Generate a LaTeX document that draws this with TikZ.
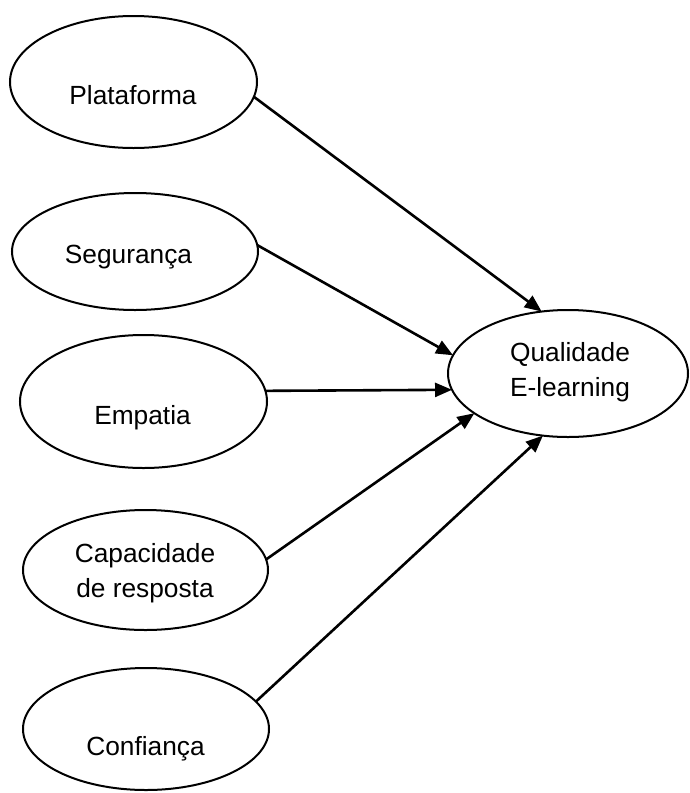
\documentclass[tikz,border=0pt]{standalone}
\usepackage{fontspec}
\setmainfont{Liberation Sans}
\usetikzlibrary{shapes.geometric,arrows.meta}

\tikzset{
    oval/.style={draw, ellipse, line width=2pt, inner sep=0pt, outer sep=0pt},
    word/.style={anchor=base, align=center, inner sep=0pt,
        font=\fontsize{26.3pt}{35pt}\selectfont},
    link/.style={-{Triangle[length=17pt,width=14pt]}, line width=2.6pt}
}

\begin{document}
\begin{tikzpicture}[x=1pt, y=-1pt]
        \useasboundingbox (0,0) rectangle (689,793);
        % factores
        \node [oval, minimum width=247pt, minimum height=132pt] (plat) at (133.5,82) {};
        \node [word] (plat-txt) at (133,104) {Plataforma};
        \node [oval, minimum width=246pt, minimum height=117pt] (seg) at (135,251.5) {};
        \node [word] (seg-txt) at (128.5,263) {Segurança};
        \node [oval, minimum width=247pt, minimum height=133pt] (emp) at (143.5,401.5) {};
        \node [word] (emp-txt) at (142.5,424) {Empatia};
        \node [oval, minimum width=245pt, minimum height=120pt] (cap) at (145.5,570) {};
        \node [word] (cap-txt) at (145,597) {Capacidade\\de resposta};
        \node [oval, minimum width=246pt, minimum height=122pt] (conf) at (146,729) {};
        \node [word] (conf-txt) at (145.5,755) {Confiança};
        % resultado
        \node [oval, minimum width=240pt, minimum height=127pt] (qual) at (568,373.5) {};
        \node [word] (qual-txt) at (570,396.7) {Qualidade\\E-learning};
        % ligacoes
        \draw [link] (plat.-7.5) -- (qual.113.5);
        \draw [link] (seg.3) -- (qual.171.3);
        \draw [link] (emp.5.3) -- (qual.-172.2);
        \draw [link] (cap.5.6) -- (qual.-157);
        \draw [link] (conf.14.4) -- (qual.-112.3);
    \end{tikzpicture}
\end{document}
